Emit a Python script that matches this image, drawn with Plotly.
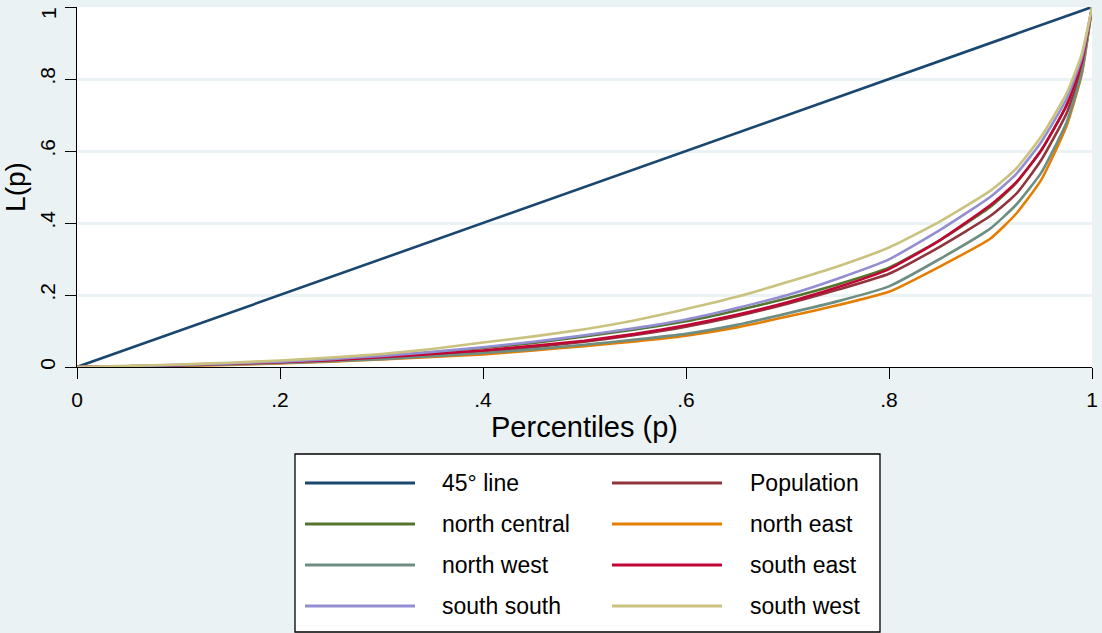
import plotly.graph_objects as go

# ---- data ----
p = [0, .05, .1, .15, .2, .25, .3, .35, .4, .45, .5, .55, .6, .65, .7, .75,
     .8, .85, .9, .925, .95, .975, .99, 1]

line45_x = [0, 1]
line45_y = [0, 1]

population = [0, .002, .005, .008, .013, .018, .025, .033, .043, .055, .070, .089,
              .112, .141, .176, .215, .259, .334, .420, .480, .575, .705, .830, 1]
north_central = [0, .002, .005, .009, .014, .021, .029, .040, .053, .067, .085, .104,
                 .127, .157, .191, .230, .276, .352, .445, .510, .602, .728, .848, 1]
north_east = [0, .001, .003, .006, .010, .015, .021, .028, .035, .046, .058, .071,
              .087, .110, .140, .172, .209, .279, .357, .425, .520, .670, .815, 1]
north_west = [0, .001, .004, .007, .011, .016, .022, .030, .039, .049, .062, .076,
              .092, .117, .149, .183, .224, .300, .385, .450, .540, .680, .818, 1]
south_east = [0, .002, .005, .009, .013, .019, .027, .036, .046, .059, .073, .092,
              .116, .145, .180, .222, .272, .352, .450, .512, .602, .727, .847, 1]
south_south = [0, .002, .006, .010, .015, .022, .031, .042, .055, .070, .088, .108,
               .132, .164, .200, .246, .299, .380, .473, .535, .625, .745, .860, 1]
south_west = [0, .003, .007, .012, .018, .026, .036, .050, .068, .085, .105, .130,
              .161, .195, .236, .280, .332, .404, .490, .550, .640, .760, .870, 1]

names = ["45° line", "Population", "north central", "north east",
         "north west", "south east", "south south", "south west"]
colors = ["#1a476f", "#90353b", "#55752f", "#e37e00",
          "#6e8e84", "#c10534", "#938dd2", "#cac27e"]

xticks = [0, .2, .4, .6, .8, 1]
xticklabels = ["0", ".2", ".4", ".6", ".8", "1"]
yticks = [0, .2, .4, .6, .8, 1]
yticklabels = ["0", ".2", ".4", ".6", ".8", "1"]

series = [(line45_x, line45_y), (p, population), (p, north_central), (p, north_east),
          (p, north_west), (p, south_east), (p, south_south), (p, south_west)]

# ---- figure ----
W, H = 1102, 633
ML, MR, MT, MB = 77, 10, 7, 266
PW, PH = W - ML - MR, H - MT - MB
BG = "#EAF2F3"
FONT = "Liberation Sans, Arial, sans-serif"

def px_to_paper(x, y):
    return (x - ML) / PW, (H - MB - y) / PH

fig = go.Figure()
for (xs, ys), nm, col in zip(series, names, colors):
    fig.add_trace(go.Scatter(x=xs, y=ys, mode="lines", name=nm,
                             line=dict(color=col, width=2.6, shape="spline", smoothing=0.5),
                             showlegend=False))

# custom Stata-style legend
shapes = []
annotations = []
bx0, by0 = px_to_paper(295, 632)
bx1, by1 = px_to_paper(880, 454)
shapes.append(dict(type="rect", xref="paper", yref="paper", x0=bx0, y0=by0, x1=bx1, y1=by1,
                   line=dict(color="#000000", width=1.3), fillcolor="white", layer="below"))
rows_y = [483, 524, 565, 606]
cols = [(305, 415, 440), (612, 722, 748)]
for i, (nm, col) in enumerate(zip(names, colors)):
    r, c = divmod(i, 2)
    lx0, ly = px_to_paper(cols[c][0], rows_y[r])
    lx1, _ = px_to_paper(cols[c][1], rows_y[r])
    tx, _ = px_to_paper(cols[c][2], rows_y[r])
    shapes.append(dict(type="line", xref="paper", yref="paper", x0=lx0, x1=lx1, y0=ly, y1=ly,
                       line=dict(color=col, width=3)))
    annotations.append(dict(text=nm, xref="paper", yref="paper", x=tx, y=ly,
                            xanchor="left", yanchor="middle", showarrow=False,
                            font=dict(family=FONT, size=23, color="#000000")))

# the top y tick label sits slightly below its tick (as in the reference) so it is not cut off
top_label = yticklabels[-1]
yticklabels_axis = yticklabels[:-1] + [""]
ax_, ay_ = px_to_paper(48, 13)
annotations.append(dict(text=top_label, xref="paper", yref="paper", x=ax_, y=ay_,
                        xanchor="center", yanchor="middle", showarrow=False, textangle=-90,
                        font=dict(family=FONT, size=21, color="#000000")))

fig.update_layout(
    width=W, height=H,
    margin=dict(l=ML, r=MR, t=MT, b=MB, autoexpand=False),
    paper_bgcolor=BG, plot_bgcolor="white",
    font=dict(family=FONT, color="#000000"),
    shapes=shapes, annotations=annotations,
    showlegend=False,
)
fig.update_xaxes(range=[0, 1], tickvals=xticks, ticktext=xticklabels, automargin=False,
                 ticks="outside", ticklen=11, tickwidth=1.3, tickcolor="#000000",
                 showline=True, linecolor="#000000", linewidth=1.3,
                 showgrid=False, zeroline=False, ticklabeloverflow="allow",
                 tickfont=dict(size=21), ticklabelstandoff=3,
                 title=dict(text="Percentiles (p)", font=dict(size=29), standoff=2))
fig.update_yaxes(range=[0, 1], tickvals=yticks, ticktext=yticklabels_axis, automargin=False,
                 ticks="outside", ticklen=11, tickwidth=1.3, tickcolor="#000000",
                 showline=True, linecolor="#000000", linewidth=1.3,
                 showgrid=True, gridcolor=BG, gridwidth=2.5, zeroline=False,
                 ticklabeloverflow="allow",
                 tickangle=-90, tickfont=dict(size=21), ticklabelstandoff=1,
                 title=dict(text="L(p)", font=dict(size=28), standoff=4))

fig.write_html("out.html", config={"displayModeBar": False},
               post_script="document.body.style.margin='0';document.body.style.overflow='hidden';")
